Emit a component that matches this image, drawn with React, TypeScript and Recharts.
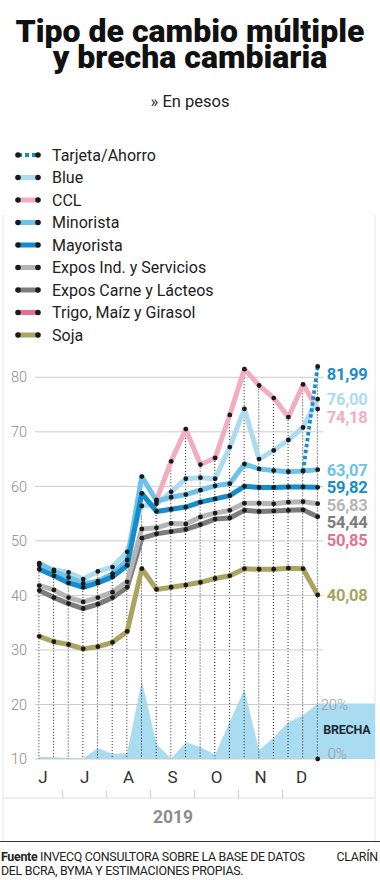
import React from 'react';
import {
  ComposedChart,
  Line,
  Area,
  Bar,
  XAxis,
  YAxis,
  ReferenceLine,
  ReferenceArea,
  ReferenceDot,
} from 'recharts';

const FONT = 'Roboto, "Noto Sans", sans-serif';

// Month labels on the x axis (index positions of the 20 readings)
const MONTHS = ['J', 'J', 'A', 'S', 'O', 'N', 'D'];
const MONTH_POS = [0.25, 3.1, 6.1, 9.1, 12.1, 15.1, 17.9];
const MONTH_EDGES = [1.6, 4.6, 7.6, 10.6, 13.6, 16.6];
const Y_TICKS = [10, 20, 30, 40, 50, 60, 70, 80];

// Series values (pesos per dollar)
const TARJETA = [null, null, null, null, null, null, null, null, null, null, null, null, null, null, null, null, null, null, 62.8, 81.99];
const BLUE = [45.6, 44.7, 44.2, 43.0, 44.4, 45.2, 48.0, 56.4, 56.8, 59.0, 61.4, 61.6, 61.4, 67.2, 74.2, 65.0, 66.6, 68.5, 70.8, 76.0];
const CCL = [null, null, null, null, null, null, null, null, 57.5, 64.6, 70.5, 64.0, 65.2, 73.1, 81.5, 78.5, 76.2, 72.7, 78.7, 74.18];
const MINORISTA = [45.9, 44.4, 43.3, 42.2, 42.6, 44.0, 46.5, 61.8, 57.3, 58.0, 58.5, 59.3, 60.1, 60.5, 64.1, 63.2, 62.9, 62.7, 62.8, 63.07];
const MAYORISTA = [44.8, 43.6, 42.3, 41.5, 42.3, 43.4, 45.5, 58.7, 55.4, 55.8, 56.2, 57.1, 57.7, 58.3, 60.0, 59.8, 59.8, 59.9, 59.9, 59.82];
const EXPOS_IND = [41.8, 41.0, 39.6, 38.8, 39.6, 40.6, 42.5, 52.2, 52.4, 53.2, 53.1, 54.4, 55.1, 55.6, 56.9, 56.9, 56.8, 57.1, 57.2, 56.83];
const EXPOS_CARNE = [40.9, 39.6, 38.5, 37.6, 38.4, 39.6, 41.5, 50.5, 51.3, 51.7, 52.1, 53.0, 54.0, 54.2, 55.6, 55.4, 55.5, 55.6, 55.7, 54.44];
const SOJA = [32.5, 31.5, 31.0, 30.2, 30.6, 31.4, 33.4, 44.9, 41.1, 41.5, 41.9, 42.4, 43.1, 43.6, 44.9, 44.8, 44.8, 45.0, 44.9, 40.08];
// Brecha cambiaria in %
const BRECHA = [0.7, 0.6, 0.4, 0.2, 4.0, 1.8, 2.2, 28.7, 5.5, 0.2, 6.1, 4.4, 1.6, 13.8, 25.5, 3.2, 7.9, 13.6, 16.0, 20.4];

// Final values written at the right
const END_VALUES = [81.99, 76.0, 74.18, 63.07, 59.82, 56.83, 54.44, 50.85, 40.08];
const END_TEXT = ['81,99', '76,00', '74,18', '63,07', '59,82', '56,83', '54,44', '50,85', '40,08'];

const LEGEND = [
  { name: 'Tarjeta/Ahorro', color: '#1a8ccc', dashed: true },
  { name: 'Blue', color: '#addcf0' },
  { name: 'CCL', color: '#f2adc1' },
  { name: 'Minorista', color: '#6dc2ea' },
  { name: 'Mayorista', color: '#158ccc' },
  { name: 'Expos Ind. y Servicios', color: '#b5b5b5' },
  { name: 'Expos Carne y Lácteos', color: '#7c7c7c' },
  { name: 'Trigo, Maíz y Girasol', color: '#e4728f' },
  { name: 'Soja', color: '#aba35e' },
];

// drawing order: bottom to top
const LINES = [
  { key: 'soja', values: SOJA, color: '#aba35e' },
  { key: 'carne', values: EXPOS_CARNE, color: '#7c7c7c' },
  { key: 'ind', values: EXPOS_IND, color: '#b5b5b5' },
  { key: 'ccl', values: CCL, color: '#f2adc1' },
  { key: 'blue', values: BLUE, color: '#addcf0' },
  { key: 'minorista', values: MINORISTA, color: '#6dc2ea' },
  { key: 'mayorista', values: MAYORISTA, color: '#158ccc' },
];

const X_DOMAIN: [number, number] = [-0.29, 22.91];
const GRID_END = 19.37;
const LAST = BRECHA.length - 1;

const data = BRECHA.map((b, i) => {
  const row: any = { i, brecha: 10 + b / 2, tarjeta: TARJETA[i] };
  const vals: number[] = [];
  LINES.forEach(s => {
    row[s.key] = s.values[i];
    if (s.values[i] != null) vals.push(s.values[i] as number);
  });
  if (TARJETA[i] != null) vals.push(TARJETA[i] as number);
  row.span = [10, Math.max(...vals)];
  return row;
});

// stack the end labels so they don't overlap (in data units)
const labelPos = (() => {
  const gap = 3.2;
  const out: number[] = [];
  END_VALUES.forEach((v, k) => {
    out.push(k === 0 ? Math.min(v, 80.6) : Math.min(v, out[k - 1] - gap));
  });
  return out;
})();

const textLabel = (text: string, color: string, dx: number, size: number, weight: number, dyPx = 0) =>
  (props: any) => {
    const { viewBox } = props;
    const cx = viewBox.x + viewBox.width / 2;
    const cy = viewBox.y + viewBox.height / 2;
    return (
      <text
        x={cx + dx}
        y={cy + dyPx}
        dy="0.36em"
        fill={color}
        fontSize={size}
        fontWeight={weight}
        fontFamily={FONT}
        letterSpacing={-0.2}
      >
        {text}
      </text>
    );
  };

const DottedStem = (props: any) => {
  const { x, y, width, height } = props;
  if (x == null || y == null) return null;
  const cx = x + width / 2;
  return (
    <line x1={cx} x2={cx} y1={y} y2={y + height} stroke="#222" strokeWidth={1} strokeDasharray="1 2" />
  );
};

const Swatch = ({ color, dashed, y }: { color: string; dashed?: boolean; y: number }) => (
  <g>
    <line
      x1={18}
      x2={38}
      y1={y}
      y2={y}
      stroke={color}
      strokeWidth={dashed ? 4 : 5}
      strokeDasharray={dashed ? '4 3' : undefined}
    />
    <circle cx={18} cy={y} r={2.8} fill="#1a1a1a" />
    <circle cx={38} cy={y} r={2.8} fill="#1a1a1a" />
  </g>
);

export default function App() {
  return (
    <div style={{ position: 'absolute', left: 0, top: 0, width: 380, height: 880, background: '#fff' }}>
      <div
        style={{
          position: 'absolute',
          left: 0,
          top: 17.5,
          width: 380,
          textAlign: 'center',
          fontFamily: FONT,
          fontSize: 32,
          fontWeight: 900,
          lineHeight: '26.6px',
          color: '#111',
          letterSpacing: 0,
          zIndex: 1,
        }}
      >
        Tipo de cambio múltiple
        <br />
        y brecha cambiaria
      </div>

      <svg width={380} height={880} style={{ position: 'absolute', left: 0, top: 0 }}>
        <text x={190} y={107} textAnchor="middle" fontFamily={FONT} fontSize={16.5} fill="#222">
          » En pesos
        </text>

        {LEGEND.map((l, k) => {
          const cy = 155 + k * 22.5;
          return (
            <g key={l.name}>
              <Swatch color={l.color} dashed={l.dashed} y={cy} />
              <text x={52} y={cy + 5.6} fontFamily={FONT} fontSize={16} fill="#222">
                {l.name}
              </text>
            </g>
          );
        })}

        {/* light frame around the chart */}
        <line x1={3} x2={3} y1={215} y2={841} stroke="#e6e6e6" />
        <line x1={375} x2={375} y1={215} y2={841} stroke="#e6e6e6" />
        <line x1={3} x2={375} y1={798} y2={798} stroke="#dcdcdc" />

        <text x={173} y={823} textAnchor="middle" fontFamily={FONT} fontSize={17.5} fontWeight={700} fill="#8c8c8c">
          2019
        </text>

        <line x1={0} x2={380} y1={841.5} y2={841.5} stroke="#333" strokeWidth={1} />
        <text x={1} y={860.7} fontFamily={FONT} fontSize={12.4} fill="#222" letterSpacing={-0.3}>
          <tspan fontWeight={700}>Fuente</tspan> INVECQ CONSULTORA SOBRE LA BASE DE DATOS
        </text>
        <text x={1} y={875} fontFamily={FONT} fontSize={12.4} fill="#222" letterSpacing={-0.3}>
          DEL BCRA, BYMA Y ESTIMACIONES PROPIAS.
        </text>
        <text x={378} y={860.7} textAnchor="end" fontFamily={FONT} fontSize={12.4} fill="#222" letterSpacing={-0.2}>
          CLARÍN
        </text>
      </svg>

      <div style={{ position: 'absolute', left: 0, top: 345 }}>
        <ComposedChart
          width={380}
          height={455}
          data={data}
          margin={{ top: 10.5, right: 5, bottom: 0, left: 0 }}
        >
          <XAxis
            dataKey="i"
            type="number"
            domain={X_DOMAIN}
            ticks={MONTH_POS}
            interval={0}
            tickFormatter={(_v: any, idx: number) => MONTHS[idx]}
            axisLine={false}
            tickLine={false}
            tickMargin={6}
            height={31}
            tick={{ fill: '#333', fontSize: 17, fontFamily: FONT }}
          />
          <XAxis
            xAxisId="edges"
            dataKey="i"
            type="number"
            domain={X_DOMAIN}
            ticks={MONTH_EDGES}
            interval={0}
            axisLine={false}
            tickSize={8}
            tickLine={{ stroke: '#cfcfcf' }}
            tick={() => <g />}
            height={10}
          />
          <YAxis
            type="number"
            domain={[10, 84]}
            ticks={Y_TICKS}
            interval={0}
            width={35}
            axisLine={false}
            tickLine={false}
            tick={{ fill: '#8a8a8a', fontSize: 14.5, fontFamily: FONT, fontWeight: 300 }}
          />

          {Y_TICKS.map(t => (
            <ReferenceLine
              key={t}
              segment={[{ x: X_DOMAIN[0], y: t }, { x: GRID_END, y: t }]}
              stroke="#cbcbcb"
              strokeWidth={1}
            />
          ))}

          <Area
            dataKey="brecha"
            baseValue={10}
            type="linear"
            stroke="none"
            fill="#a9dbf1"
            fillOpacity={1}
            isAnimationActive={false}
            activeDot={false}
          />
          <ReferenceArea
            x1={LAST}
            x2={X_DOMAIN[1]}
            y1={10}
            y2={10 + BRECHA[LAST] / 2}
            fill="#a9dbf1"
            fillOpacity={1}
            stroke="none"
          />

          <Bar dataKey="span" barSize={2} shape={<DottedStem />} isAnimationActive={false} />

          {LINES.map(s => (
            <Line
              key={s.key}
              dataKey={s.key}
              type="linear"
              stroke={s.color}
              strokeWidth={5}
              strokeLinejoin="round"
              dot={false}
              activeDot={false}
              isAnimationActive={false}
            />
          ))}
          <Line
            dataKey="tarjeta"
            type="linear"
            stroke="#1a8ccc"
            strokeWidth={3.8}
            strokeDasharray="3.5 2.5"
            dot={false}
            activeDot={false}
            isAnimationActive={false}
          />

          {[...LINES.map(s => s.key), 'tarjeta'].map(k => (
            <Line
              key={`dots-${k}`}
              dataKey={k}
              stroke="none"
              dot={{ r: 2.4, fill: '#1a1a1a', stroke: 'none' }}
              activeDot={false}
              isAnimationActive={false}
            />
          ))}

          <ReferenceDot x={LAST} y={10} r={2.4} fill="#1a1a1a" stroke="none" />

          {END_TEXT.map((t, k) => (
            <ReferenceDot
              key={t}
              x={LAST}
              y={labelPos[k]}
              r={1}
              fill="none"
              stroke="none"
              label={textLabel(t, LEGEND[k].color, 9, 16.5, 700)}
            />
          ))}

          <ReferenceDot x={LAST} y={20} r={1} fill="none" stroke="none" label={textLabel('20%', '#9a9a9a', 3, 15, 300)} />
          <ReferenceDot x={LAST} y={15.5} r={1} fill="none" stroke="none" label={textLabel('BRECHA', '#1c2a36', 5.5, 12.5, 700)} />
          <ReferenceDot x={LAST} y={10} r={1} fill="none" stroke="none" label={textLabel('0%', '#9a9a9a', 10, 15, 300, -5)} />
        </ComposedChart>
      </div>
    </div>
  );
}
